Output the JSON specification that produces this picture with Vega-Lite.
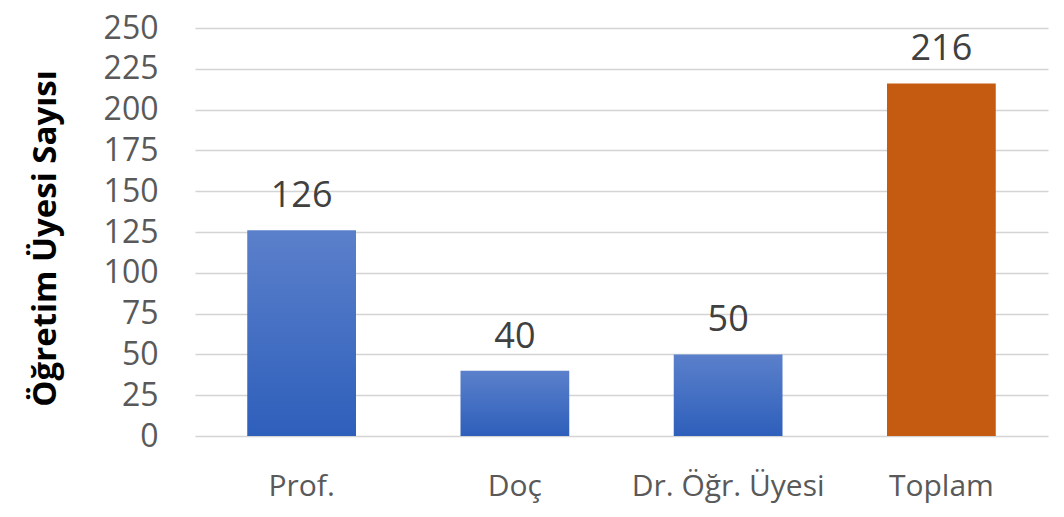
{
  "$schema": "https://vega.github.io/schema/vega-lite/v6.json",
  "width": 853,
  "height": 408,
  "autosize": {"type": "none"},
  "padding": {"left": 195, "top": 28, "right": 16, "bottom": 81},
  "background": "white",
  "config": {"view": {"stroke": null}, "font": "Open Sans"},
  "data": {"values": [
    {"kategori": "Prof.", "sayi": 126, "grup": "unvan"},
    {"kategori": "Doç", "sayi": 40, "grup": "unvan"},
    {"kategori": "Dr. Öğr. Üyesi", "sayi": 50, "grup": "unvan"},
    {"kategori": "Toplam", "sayi": 216, "grup": "toplam"}
  ]},
  "encoding": {
    "x": {
      "field": "kategori", "type": "nominal",
      "scale": {"domain": ["Prof.", "Doç", "Dr. Öğr. Üyesi", "Toplam"], "paddingInner": 0.49, "paddingOuter": 0.245},
      "axis": {"title": null, "domain": false, "ticks": false, "labelAngle": 0, "labelLimit": 0, "labelFont": "Open Sans", "labelFontSize": 30, "labelColor": "#595959", "labelBaseline": "alphabetic", "labelPadding": 59}
    },
    "y": {
      "field": "sayi", "type": "quantitative",
      "scale": {"domain": [0, 250], "nice": false},
      "axis": {
        "values": [0, 25, 50, 75, 100, 125, 150, 175, 200, 225, 250],
        "title": "Öğretim Üyesi Sayısı", "titleFont": "Open Sans", "titleFontSize": 33, "titleFontWeight": "bold", "titleColor": "#000000",
        "titleX": -150, "titleY": 210, "titleAngle": -90, "titleAlign": "center", "titleBaseline": "middle",
        "domain": false, "ticks": false, "grid": true, "gridColor": "#d4d4d4", "gridWidth": 1.4,
        "labelFont": "Open Sans", "labelFontSize": 32, "labelColor": "#595959", "labelPadding": 37
      }
    }
  },
  "layer": [
    {
      "transform": [{"filter": "datum.grup === 'unvan'"}],
      "mark": {"type": "bar", "fill": {"gradient": "linear", "x1": 0, "y1": 0, "x2": 0, "y2": 1, "stops": [{"offset": 0, "color": "#5b80cb"}, {"offset": 1, "color": "#2e5fbb"}]}}
    },
    {
      "transform": [{"filter": "datum.grup === 'toplam'"}],
      "mark": {"type": "bar", "fill": "#c55a11"}
    },
    {
      "mark": {"type": "text", "baseline": "alphabetic", "dy": -23, "font": "Open Sans", "fontSize": 36, "fill": "#404040"},
      "encoding": {"text": {"field": "sayi", "type": "quantitative"}}
    }
  ]
}
